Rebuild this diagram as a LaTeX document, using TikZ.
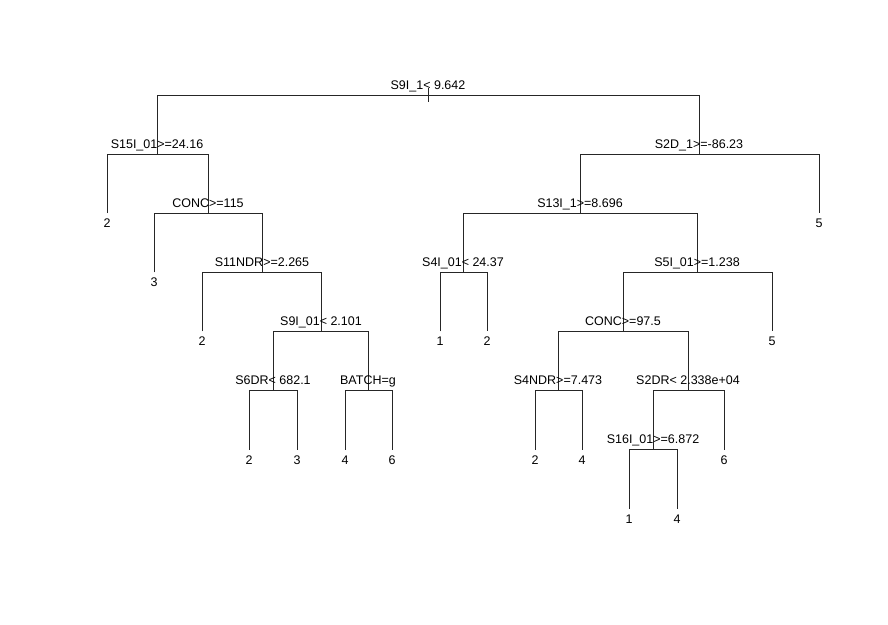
\documentclass[tikz,border=0pt]{standalone}
\usepackage{fontspec}
\setmainfont{Liberation Sans}
\begin{document}
\begin{tikzpicture}[x=1pt,y=-1pt,
  edge/.style={draw=black!85,line width=0.8pt},
  lab/.style={anchor=base,inner sep=0pt,font=\fontsize{12.5}{14}\selectfont},
]
\useasboundingbox[fill=white] (0,0) rectangle (888,624);
% internal nodes
\coordinate (r) at (428,95);
\coordinate (a) at (157,154.1);
\coordinate (c) at (208,213.2);
\coordinate (d) at (262,272.3);
\coordinate (e) at (321,331.4);
\coordinate (f) at (273,390.5);
\coordinate (g) at (368,390.5);
\coordinate (b) at (699,154.1);
\coordinate (h) at (580,213.2);
\coordinate (i) at (463,272.3);
\coordinate (j) at (697,272.3);
\coordinate (k) at (623,331.4);
\coordinate (m) at (558,390.5);
\coordinate (n) at (688,390.5);
\coordinate (o) at (653,449.6);
% leaves
\coordinate (l1) at (107,213.2);
\coordinate (l2) at (154,272.3);
\coordinate (l3) at (202,331.4);
\coordinate (l4) at (249,449.6);
\coordinate (l5) at (297,449.6);
\coordinate (l6) at (345,449.6);
\coordinate (l7) at (392,449.6);
\coordinate (l8) at (819,213.2);
\coordinate (l9) at (440,331.4);
\coordinate (l10) at (487,331.4);
\coordinate (l11) at (772,331.4);
\coordinate (l12) at (535,449.6);
\coordinate (l13) at (582,449.6);
\coordinate (l14) at (724,449.6);
\coordinate (l15) at (629,508.7);
\coordinate (l16) at (677,508.7);
% root stub
\coordinate (rs1) at (428,88);
\coordinate (rs2) at (428,102);
\draw[edge] (rs1) -- (rs2);
% edges
\draw[edge] (a) -- (a |- r) -- (b |- r) -- (b);
\draw[edge] (l1) -- (l1 |- a) -- (c |- a) -- (c);
\draw[edge] (l2) -- (l2 |- c) -- (d |- c) -- (d);
\draw[edge] (l3) -- (l3 |- d) -- (e |- d) -- (e);
\draw[edge] (f) -- (f |- e) -- (g |- e) -- (g);
\draw[edge] (l4) -- (l4 |- f) -- (l5 |- f) -- (l5);
\draw[edge] (l6) -- (l6 |- g) -- (l7 |- g) -- (l7);
\draw[edge] (h) -- (h |- b) -- (l8 |- b) -- (l8);
\draw[edge] (i) -- (i |- h) -- (j |- h) -- (j);
\draw[edge] (l9) -- (l9 |- i) -- (l10 |- i) -- (l10);
\draw[edge] (k) -- (k |- j) -- (l11 |- j) -- (l11);
\draw[edge] (m) -- (m |- k) -- (n |- k) -- (n);
\draw[edge] (l12) -- (l12 |- m) -- (l13 |- m) -- (l13);
\draw[edge] (o) -- (o |- n) -- (l14 |- n) -- (l14);
\draw[edge] (l15) -- (l15 |- o) -- (l16 |- o) -- (l16);
% split labels
\node[lab] (tr) at ([yshift=6pt]r) {S9I\_1< 9.642};
\node[lab] (ta) at ([yshift=6pt]a) {S15I\_01>=24.16};
\node[lab] (tc) at ([yshift=6pt]c) {CONC>=115};
\node[lab] (td) at ([yshift=6pt]d) {S11NDR>=2.265};
\node[lab] (te) at ([yshift=6pt]e) {S9I\_01< 2.101};
\node[lab] (tf) at ([yshift=6pt]f) {S6DR< 682.1};
\node[lab] (tg) at ([yshift=6pt]g) {BATCH=g};
\node[lab] (tb) at ([yshift=6pt]b) {S2D\_1>=-86.23};
\node[lab] (th) at ([yshift=6pt]h) {S13I\_1>=8.696};
\node[lab] (ti) at ([yshift=6pt]i) {S4I\_01< 24.37};
\node[lab] (tj) at ([yshift=6pt]j) {S5I\_01>=1.238};
\node[lab] (tk) at ([yshift=6pt]k) {CONC>=97.5};
\node[lab] (tm) at ([yshift=6pt]m) {S4NDR>=7.473};
\node[lab] (tn) at ([yshift=6pt]n) {S2DR< 2.338e+04};
\node[lab] (to) at ([yshift=6pt]o) {S16I\_01>=6.872};
% leaf labels
\node[lab] (t1) at ([yshift=-14.5pt]l1) {2};
\node[lab] (t2) at ([yshift=-14.5pt]l2) {3};
\node[lab] (t3) at ([yshift=-14.5pt]l3) {2};
\node[lab] (t4) at ([yshift=-14.5pt]l4) {2};
\node[lab] (t5) at ([yshift=-14.5pt]l5) {3};
\node[lab] (t6) at ([yshift=-14.5pt]l6) {4};
\node[lab] (t7) at ([yshift=-14.5pt]l7) {6};
\node[lab] (t8) at ([yshift=-14.5pt]l8) {5};
\node[lab] (t9) at ([yshift=-14.5pt]l9) {1};
\node[lab] (t10) at ([yshift=-14.5pt]l10) {2};
\node[lab] (t11) at ([yshift=-14.5pt]l11) {5};
\node[lab] (t12) at ([yshift=-14.5pt]l12) {2};
\node[lab] (t13) at ([yshift=-14.5pt]l13) {4};
\node[lab] (t14) at ([yshift=-14.5pt]l14) {6};
\node[lab] (t15) at ([yshift=-14.5pt]l15) {1};
\node[lab] (t16) at ([yshift=-14.5pt]l16) {4};
\end{tikzpicture}
\end{document}
